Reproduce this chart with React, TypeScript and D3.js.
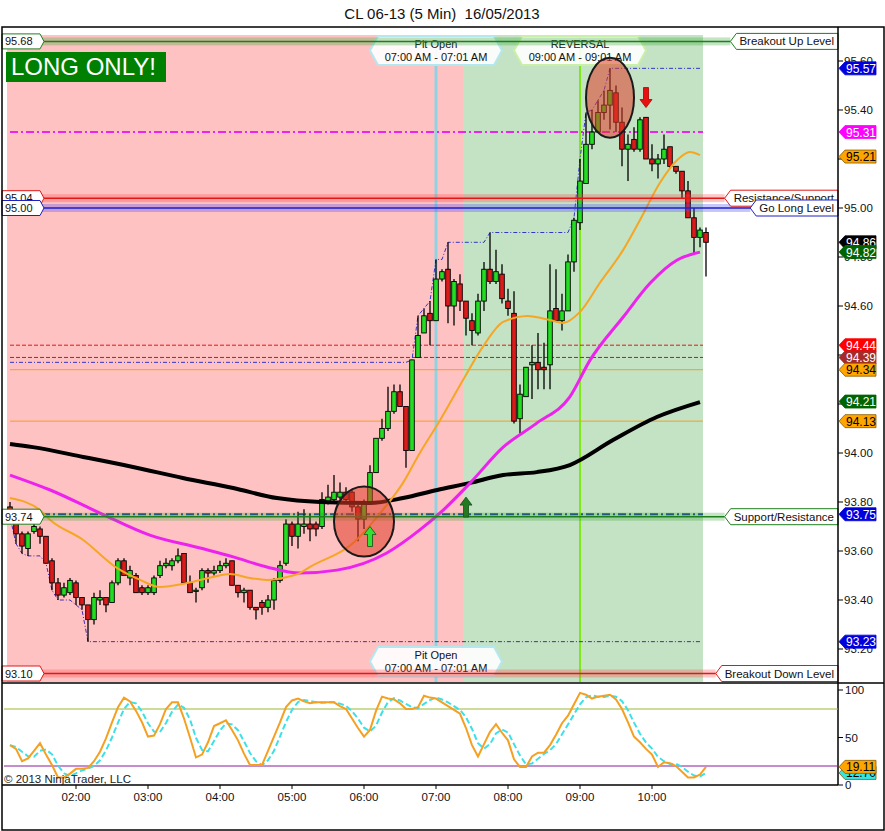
import React from 'react';
import * as d3 from 'd3';

const FONT = '"Liberation Sans", Arial, sans-serif';

const title = 'CL 06-13 (5 Min)\u00a0\u00a016/05/2013';
const sessionStart = '01:05';
const barMinutes = 5;

// open, high, low, close of every 5 min bar, 01:05 .. 10:45
const ohlc: [number, number, number, number][] = [
  [93.78, 93.80, 93.74, 93.75], [93.75, 93.76, 93.63, 93.67], [93.67, 93.68, 93.59, 93.62], [93.61, 93.68, 93.58, 93.67],
  [93.68, 93.72, 93.67, 93.70], [93.69, 93.70, 93.63, 93.66], [93.66, 93.66, 93.55, 93.55], [93.56, 93.57, 93.44, 93.47],
  [93.47, 93.49, 93.40, 93.42], [93.42, 93.47, 93.41, 93.45], [93.43, 93.49, 93.42, 93.48], [93.47, 93.48, 93.38, 93.41],
  [93.41, 93.41, 93.36, 93.38], [93.38, 93.38, 93.23, 93.32], [93.32, 93.43, 93.30, 93.41], [93.40, 93.44, 93.38, 93.41],
  [93.41, 93.41, 93.35, 93.38], [93.39, 93.48, 93.39, 93.47], [93.47, 93.57, 93.46, 93.56], [93.56, 93.57, 93.50, 93.50],
  [93.49, 93.54, 93.46, 93.52], [93.50, 93.51, 93.43, 93.43], [93.45, 93.46, 93.42, 93.43], [93.43, 93.46, 93.42, 93.45],
  [93.43, 93.50, 93.42, 93.49], [93.50, 93.56, 93.49, 93.54], [93.54, 93.57, 93.53, 93.55], [93.54, 93.57, 93.52, 93.56],
  [93.56, 93.61, 93.55, 93.58], [93.59, 93.59, 93.47, 93.47], [93.47, 93.50, 93.43, 93.43], [93.44, 93.45, 93.39, 93.44],
  [93.45, 93.53, 93.44, 93.52], [93.52, 93.53, 93.47, 93.51], [93.51, 93.54, 93.50, 93.52], [93.52, 93.56, 93.51, 93.54],
  [93.54, 93.57, 93.53, 93.55], [93.56, 93.56, 93.46, 93.46], [93.46, 93.46, 93.41, 93.43], [93.43, 93.45, 93.39, 93.44],
  [93.44, 93.44, 93.36, 93.37], [93.37, 93.37, 93.32, 93.36], [93.39, 93.40, 93.34, 93.37], [93.37, 93.42, 93.35, 93.40],
  [93.40, 93.49, 93.36, 93.48], [93.48, 93.56, 93.47, 93.54], [93.55, 93.73, 93.54, 93.71], [93.71, 93.72, 93.62, 93.66],
  [93.66, 93.76, 93.61, 93.71], [93.70, 93.77, 93.67, 93.71], [93.71, 93.75, 93.64, 93.69], [93.71, 93.72, 93.66, 93.69],
  [93.70, 93.84, 93.69, 93.81], [93.80, 93.87, 93.79, 93.82], [93.81, 93.91, 93.80, 93.84], [93.82, 93.88, 93.81, 93.84],
  [93.84, 93.86, 93.80, 93.81], [93.84, 93.85, 93.76, 93.78], [93.78, 93.79, 93.64, 93.73], [93.73, 93.81, 93.69, 93.80],
  [93.80, 93.95, 93.79, 93.92], [93.92, 94.06, 93.92, 94.06], [94.06, 94.14, 94.05, 94.10], [94.10, 94.27, 94.09, 94.17],
  [94.17, 94.28, 94.16, 94.25], [94.25, 94.28, 94.19, 94.19], [94.19, 94.19, 93.94, 94.01], [94.01, 94.38, 94.01, 94.38],
  [94.39, 94.56, 94.39, 94.48], [94.49, 94.59, 94.49, 94.56], [94.57, 94.62, 94.44, 94.54], [94.54, 94.79, 94.54, 94.71],
  [94.71, 94.75, 94.70, 94.74], [94.75, 94.86, 94.53, 94.60], [94.60, 94.71, 94.52, 94.70], [94.69, 94.73, 94.58, 94.62],
  [94.62, 94.62, 94.48, 94.55], [94.54, 94.57, 94.44, 94.50], [94.49, 94.65, 94.48, 94.62], [94.62, 94.78, 94.58, 94.75],
  [94.75, 94.90, 94.69, 94.70], [94.70, 94.83, 94.69, 94.74], [94.73, 94.77, 94.61, 94.63], [94.62, 94.67, 94.56, 94.59],
  [94.57, 94.66, 94.12, 94.13], [94.14, 94.28, 94.08, 94.24], [94.23, 94.35, 94.23, 94.35], [94.36, 94.44, 94.22, 94.37],
  [94.37, 94.49, 94.26, 94.34], [94.35, 94.45, 94.26, 94.34], [94.36, 94.77, 94.26, 94.58], [94.59, 94.75, 94.54, 94.54],
  [94.54, 94.65, 94.50, 94.58], [94.58, 94.81, 94.58, 94.78], [94.78, 94.96, 94.74, 94.95], [94.94, 95.20, 94.91, 95.11],
  [95.10, 95.39, 95.10, 95.26], [95.26, 95.40, 95.24, 95.31], [95.31, 95.44, 95.31, 95.39], [95.39, 95.48, 95.36, 95.42],
  [95.42, 95.57, 95.32, 95.48], [95.47, 95.50, 95.31, 95.35], [95.35, 95.41, 95.17, 95.24], [95.24, 95.30, 95.11, 95.26],
  [95.28, 95.33, 95.23, 95.24], [95.24, 95.37, 95.23, 95.36], [95.37, 95.37, 95.20, 95.20], [95.20, 95.26, 95.15, 95.18],
  [95.18, 95.22, 95.12, 95.20], [95.20, 95.30, 95.18, 95.24], [95.25, 95.25, 95.16, 95.17], [95.17, 95.17, 95.14, 95.15],
  [95.15, 95.15, 95.04, 95.07], [95.07, 95.11, 94.96, 94.96], [94.96, 95.00, 94.81, 94.88], [94.88, 94.92, 94.84, 94.91],
  [94.90, 94.92, 94.72, 94.86],
];

// stochastic %K per bar
const stochK = [
  42, 38, 25, 28, 36, 44, 32, 21, 8, 8,
  12, 17, 17, 18, 25, 35, 49, 66, 82, 92,
  88, 78, 66, 51, 52, 64, 80, 87, 87, 70,
  50, 29, 32, 45, 62, 65, 68, 58, 47, 33,
  21, 21, 21, 36, 51, 66, 82, 89, 91, 88,
  86, 87, 87, 87, 87, 83, 80, 70, 60, 51,
  58, 78, 93, 91, 90, 86, 80, 80, 82, 94,
  92, 91, 87, 83, 79, 75, 60, 42, 30, 43,
  56, 64, 55, 47, 27, 19, 19, 30, 34, 34,
  42, 53, 65, 73, 85, 97, 95, 91, 93, 94,
  95, 90, 80, 66, 51, 45, 38, 32, 19, 24,
  23, 20, 14, 8, 8, 11, 19.11,
];

// moving averages: [bar, price]
const emaFast: [number, number][] = [
  [0, 93.816], [5, 93.767], [6.7, 93.727], [12.2, 93.645], [17.8, 93.531], [21.7, 93.482], [25, 93.453],
  [29.5, 93.469], [33.8, 93.494], [36.7, 93.506], [40, 93.49], [42.8, 93.482], [46.2, 93.494], [48.3, 93.51],
  [50, 93.535], [57.2, 93.633], [61.7, 93.755], [65.5, 93.878], [68.3, 94.0], [71.7, 94.135], [75.5, 94.298],
  [78.8, 94.433], [82.2, 94.535], [86.2, 94.559], [90, 94.543], [92.2, 94.531], [95, 94.576], [98.3, 94.694],
  [102.2, 94.829], [105, 94.951], [108.3, 95.102], [111.2, 95.196], [113.3, 95.229], [115, 95.216],
];
const smaMid: [number, number][] = [
  [0, 93.91], [6.7, 93.849], [15, 93.755], [23.3, 93.665], [31.7, 93.612], [37.2, 93.576], [42.8, 93.535],
  [48.3, 93.51], [54.5, 93.522], [62.8, 93.592], [68.3, 93.686], [72.2, 93.767], [76.7, 93.878], [82.2, 94.024],
  [87.8, 94.122], [93.3, 94.229], [96.7, 94.38], [102.2, 94.555], [106.7, 94.694], [111.2, 94.788], [115, 94.82],
];
const smaSlow: [number, number][] = [
  [0, 94.037], [3.8, 94.024], [12.2, 93.984], [20.5, 93.943], [28.8, 93.898], [37.2, 93.857], [44.5, 93.816],
  [51.7, 93.8], [60, 93.796], [65.5, 93.816], [71.2, 93.849], [76.7, 93.878], [82.2, 93.91], [87.8, 93.922],
  [93.3, 93.951], [100.5, 94.053], [107.8, 94.147], [115, 94.208],
];

const priorHigh = 94.37;

const priceTicks = [93.2, 93.4, 93.6, 93.8, 94.0, 94.2, 94.4, 94.6, 94.8, 95.0, 95.2, 95.4, 95.6];
const stochTicks = [0, 50, 100];
const timeTicks = ['02:00', '03:00', '04:00', '05:00', '06:00', '07:00', '08:00', '09:00', '10:00'];

const levels = [
  { name: 'Breakout Up Level', value: 95.68, tag: '95.68', kind: 'green' },
  { name: 'Resistance/Support', value: 95.04, tag: '95.04', kind: 'red' },
  { name: 'Go Long Level', value: 95.0, tag: '95.00', kind: 'blue' },
  { name: 'Support/Resistance', value: 93.74, tag: '93.74', kind: 'green' },
  { name: 'Breakout Down Level', value: 93.1, tag: '93.10', kind: 'red' },
];
const thinLines = [
  { value: 95.31, kind: 'magenta' },
  { value: 94.44, kind: 'red' },
  { value: 94.39, kind: 'brown' },
  { value: 94.34, kind: 'orange' },
  { value: 94.13, kind: 'orange' },
  { value: 93.75, kind: 'navy' },
];
const axisTags = [
  { label: '95.57', kind: 'blue' }, { label: '95.31', kind: 'magenta' }, { label: '95.21', kind: 'orange' },
  { label: '94.86', kind: 'black' }, { label: '94.82', kind: 'darkgreen' }, { label: '94.44', kind: 'red' },
  { label: '94.39', kind: 'brown' }, { label: '94.34', kind: 'orange' }, { label: '94.21', kind: 'darkgreen' },
  { label: '94.13', kind: 'orange' }, { label: '93.75', kind: 'blue' }, { label: '93.23', kind: 'blue' },
];

const sessions = [
  { from: '01:05', to: '07:20', kind: 'short' },
  { from: '07:25', to: '10:40', kind: 'long' },
];
const timeMarkers = [
  { time: '07:00', text: 'Pit Open', range: '07:00 AM - 07:01 AM', kind: 'cyan', both: true },
  { time: '09:00', text: 'REVERSAL', range: '09:00 AM - 09:01 AM', kind: 'lime', both: false },
];
const circles = [
  { time: '06:00', price: 93.72 },
  { time: '09:25', price: 95.45 },
];
const arrows = [
  { time: '06:05', price: 93.7, dir: 'up', kind: 'lime' },
  { time: '07:25', price: 93.82, dir: 'up', kind: 'darkgreen' },
  { time: '09:55', price: 95.41, dir: 'down', kind: 'red' },
];

const lineColor: Record<string, string> = {
  green: '#1f7f1f', red: '#e01818', blue: '#1f1fc8', magenta: '#ee22ee', brown: '#a02828',
  orange: '#f2a020', navy: '#1f3f9f',
};
const bandColor: Record<string, string> = {
  green: 'rgba(40,160,40,0.28)', red: 'rgba(255,70,70,0.3)', blue: 'rgba(70,70,255,0.3)',
};
const tagColor: Record<string, [string, string]> = {
  blue: ['#0000dd', '#fff'], magenta: ['#ff00ff', '#fff'], orange: ['#ffa500', '#000'], black: ['#000', '#fff'],
  darkgreen: ['#006400', '#fff'], red: ['#ff0000', '#fff'], brown: ['#a52a2a', '#fff'], cyan: ['#33e5e5', '#000'],
};
const arrowColor: Record<string, string> = { lime: '#33e033', darkgreen: '#237a23', red: '#e81010' };

const toMin = (s: string) => {
  const [h, m] = s.split(':').map(Number);
  return h * 60 + m;
};
const barOf = (s: string) => (toMin(s) - toMin(sessionStart)) / barMinutes;

let ctx: CanvasRenderingContext2D | null = null;
const textWidth = (t: string, size: number) => {
  if (!ctx) ctx = document.createElement('canvas').getContext('2d');
  if (!ctx) return t.length * size * 0.55;
  ctx.font = `${size}px ${FONT}`;
  return ctx.measureText(t).width;
};

export default function App() {
  const W = 885;
  const H = 831;
  const PL = 4;
  const PR = 838;
  const PT = 34;
  const PB = 683;
  const SB = 785;

  const x = d3.scaleLinear().domain([0, ohlc.length - 1]).range([10, 706]);
  const y = d3.scaleLinear().domain([93.2, 95.6]).range([649, 61]);
  const ys = d3.scaleLinear().domain([0, 100]).range([SB, 690]);
  const lastX = x(ohlc.length - 1.5);

  const maLine = d3.line<[number, number]>().x((d) => x(d[0])).y((d) => y(d[1])).curve(d3.curveMonotoneX);

  // running session high / low
  const upper: [number, number][] = [];
  const lower: [number, number][] = [];
  let hi = priorHigh;
  let lo = Infinity;
  ohlc.forEach((c, i) => {
    hi = Math.max(hi, c[1]);
    lo = Math.min(lo, c[2]);
    if (i < ohlc.length - 1) {
      upper.push([i, hi]);
      lower.push([i, lo]);
    }
  });
  const stepLine = d3.line<[number, number]>().x((d) => x(d[0])).y((d) => y(d[1]));

  const stochD = stochK.map((_, i) => d3.mean(stochK.slice(Math.max(0, i - 2), i + 1)) as number);
  const kLine = d3.line<number>().x((_, i) => x(i)).y((d) => ys(d));
  const lastD = stochD[stochD.length - 1];

  const tagShape = (cy: number) => `M${PR + 1},${cy} L${PR + 7},${cy - 6.5} H876 V${cy + 6.5} H${PR + 7} Z`;

  const hexBox = (cx: number, y0: number, y1: number) => {
    const w = 66;
    const ym = (y0 + y1) / 2;
    return `M${cx - w},${ym} L${cx - w + 8},${y0} H${cx + w - 8} L${cx + w},${ym} L${cx + w - 8},${y1} H${cx - w + 8} Z`;
  };

  const arrowPath = (cx: number, tip: number, dir: string) => {
    const s = dir === 'up' ? 1 : -1;
    return `M${cx},${tip} L${cx + 6},${tip + 8 * s} H${cx + 2.5} V${tip + 20 * s} H${cx - 2.5} V${tip + 8 * s} H${cx - 6} Z`;
  };

  return (
    <div style={{ position: 'absolute', left: 0, top: 0 }}>
      <svg width={W} height={H} style={{ display: 'block', fontFamily: FONT }}>
        <defs>
          <clipPath id="plot">
            <rect x={PL} y={PT - 2} width={PR - PL} height={PB - PT + 2} />
          </clipPath>
        </defs>
        <rect width={W} height={H} fill="#fff" />
        <text x={442} y={19} textAnchor="middle" fontSize={15} fill="#111">{title}</text>

        {/* session shading */}
        {sessions.map((s) => (
          <rect key={s.from} x={x(barOf(s.from) - 0.5)} y={PT + 1} width={x(barOf(s.to) + 0.5) - x(barOf(s.from) - 0.5)}
            height={PB - PT - 2} fill={s.kind === 'short' ? '#ffc2c2' : '#c4e2c4'} />
        ))}

        {/* vertical time markers */}
        {timeMarkers.map((m) => (
          <line key={m.time} x1={x(barOf(m.time))} x2={x(barOf(m.time))} y1={PT + 1} y2={PB - 1}
            stroke={m.kind === 'cyan' ? '#8fd3e3' : '#7ee81a'} strokeWidth={m.kind === 'cyan' ? 3 : 2} />
        ))}

        {/* thin indicator lines */}
        {thinLines.map((l) => (
          <line key={l.value} x1={x(0)} x2={lastX} y1={y(l.value)} y2={y(l.value)} stroke={lineColor[l.kind]}
            strokeWidth={l.kind === 'magenta' || l.kind === 'navy' ? 2 : 1}
            strokeDasharray={l.kind === 'orange' ? undefined : l.kind === 'magenta' || l.kind === 'navy' ? '8,3,2,3' : '4,2'} />
        ))}

        <g clipPath="url(#plot)">
          <path d={stepLine(upper) || ''} fill="none" stroke="#3434c8" strokeWidth={1} strokeDasharray="4,2,1,2" />
          <path d={stepLine(lower) || ''} fill="none" stroke="#4a2aa8" strokeWidth={1} strokeDasharray="4,2,1,2" />

          {/* candles */}
          {ohlc.map((c, i) => {
            const [o, h, l, cl] = c;
            const up = cl >= o;
            const top = y(Math.max(o, cl));
            const bot = y(Math.min(o, cl));
            return (
              <g key={i}>
                <line x1={x(i)} x2={x(i)} y1={y(h)} y2={y(l)} stroke="#000" strokeWidth={1.3} />
                <rect x={x(i) - 2.3} y={top} width={4.6} height={Math.max(1.2, bot - top)}
                  fill={up ? '#22dd22' : '#dd1a1a'} stroke="#000" strokeWidth={0.9} />
              </g>
            );
          })}

          <path d={maLine(smaSlow) || ''} fill="none" stroke="#000" strokeWidth={4} />
          <path d={maLine(smaMid) || ''} fill="none" stroke="#ee22ee" strokeWidth={3} />
          <path d={maLine(emaFast) || ''} fill="none" stroke="#f5a623" strokeWidth={2} />
        </g>

        {/* time marker boxes */}
        {timeMarkers.map((m) => {
          const cx = x(barOf(m.time));
          const stroke = m.kind === 'cyan' ? '#b4e8f0' : '#c8f0a8';
          const boxes = m.both ? [PT + 2, PB - 36] : [PT + 2];
          return boxes.map((b0) => (
            <g key={m.time + b0}>
              <path d={hexBox(cx, b0, b0 + 29)} fill="rgba(255,255,255,0.9)" stroke={stroke} strokeWidth={2} />
              <text x={cx} y={b0 + 12} textAnchor="middle" fontSize={11} fill="#111">{m.text}</text>
              <text x={cx} y={b0 + 25} textAnchor="middle" fontSize={11} fill="#111">{m.range}</text>
            </g>
          ));
        })}

        {/* levels with bands */}
        {levels.map((l) => {
          const ly = y(l.value);
          const tw = textWidth(l.name, 11.5);
          const bx = PR - tw - 13;
          return (
            <g key={l.name}>
              <rect x={PL} y={ly - 4} width={bx - PL} height={8} fill={bandColor[l.kind]} />
              <line x1={PL} x2={bx} y1={ly} y2={ly} stroke={lineColor[l.kind]} strokeWidth={1.5} />
            </g>
          );
        })}

        {/* highlight circles and arrows */}
        {circles.map((c, i) => (
          <ellipse key={c.time} cx={x(barOf(c.time))} cy={y(c.price)} rx={i === 0 ? 30 : 24} ry={i === 0 ? 35 : 40}
            fill="rgba(222,60,40,0.55)" stroke="#1a1a1a" strokeWidth={2} />
        ))}
        {arrows.map((a) => (
          <path key={a.time} d={arrowPath(x(barOf(a.time)), y(a.price), a.dir)} fill={arrowColor[a.kind]}
            stroke={a.kind === 'red' ? '#a00' : '#155015'} strokeWidth={0.8} />
        ))}

        {/* level labels */}
        {levels.map((l) => {
          const ly = y(l.value);
          const tw = textWidth(l.name, 11.5);
          const bx = PR - tw - 13;
          const stroke = lineColor[l.kind];
          return (
            <g key={'lab' + l.name}>
              <path d={`M${bx},${ly} L${bx + 6},${ly - 8} H${PR} V${ly + 8} H${bx + 6} Z`} fill="#fff" stroke={stroke} strokeWidth={1} />
              <text x={bx + 9} y={ly + 4} fontSize={11.5} fill="#111">{l.name}</text>
              <path d={`M2,${ly - 7.5} H40 L44,${ly} L40,${ly + 7.5} H2 Z`} fill="#fff" stroke={stroke} strokeWidth={1} />
              <text x={5} y={ly + 4} fontSize={11} fill="#111">{l.tag}</text>
            </g>
          );
        })}

        <rect x={6} y={52} width={160} height={30} fill="#008000" />
        <text x={11} y={75} fontSize={24} fill="#fff">LONG ONLY!</text>

        {/* frame */}
        <rect x={2} y={27} width={882} height={803} fill="none" stroke="#000" strokeWidth={1.5} />
        <line x1={PR} x2={PR} y1={27} y2={SB} stroke="#000" strokeWidth={1.5} />
        <line x1={2} x2={884} y1={PB} y2={PB} stroke="#000" strokeWidth={1.5} />
        <line x1={2} x2={PR} y1={SB} y2={SB} stroke="#000" strokeWidth={1.5} />

        {/* price axis */}
        {priceTicks.map((t) => (
          <g key={t}>
            <line x1={PR} x2={PR + 5} y1={y(t)} y2={y(t)} stroke="#000" />
            <text x={PR + 6} y={y(t) + 4} fontSize={11.5} fill="#111">{t.toFixed(2)}</text>
          </g>
        ))}
        {axisTags.map((t) => {
          const cy = y(+t.label);
          const [bg, fg] = tagColor[t.kind];
          return (
            <g key={t.label}>
              <path d={tagShape(cy)} fill={bg} stroke={t.kind === 'orange' ? '#8a5a00' : bg} strokeWidth={0.8} />
              <text x={PR + 8} y={cy + 4.5} fontSize={12} fill={fg}>{t.label}</text>
            </g>
          );
        })}

        {/* stochastic panel */}
        <line x1={PL} x2={PR} y1={ys(80)} y2={ys(80)} stroke="#9ab832" strokeWidth={1} />
        <line x1={PL} x2={PR} y1={ys(20)} y2={ys(20)} stroke="#8a1a9a" strokeWidth={1} />
        <path d={kLine(stochD) || ''} fill="none" stroke="#3ee0e8" strokeWidth={2} strokeDasharray="6,3" />
        <path d={kLine(stochK) || ''} fill="none" stroke="#f5a020" strokeWidth={2} />
        <text x={4} y={783} fontSize={11.5} fill="#222">© 2013 NinjaTrader, LLC</text>
        {stochTicks.map((t) => (
          <g key={t}>
            <line x1={PR} x2={PR + 5} y1={ys(t)} y2={ys(t)} stroke="#000" />
            <text x={PR + 7} y={ys(t) + 4} fontSize={11.5} fill="#111">{t}</text>
          </g>
        ))}
        {[
          { v: lastD, kind: 'cyan' },
          { v: stochK[stochK.length - 1], kind: 'orange' },
        ].map((t) => (
          <g key={t.kind}>
            <path d={tagShape(ys(t.v))} fill={tagColor[t.kind][0]} stroke="#8a5a00" strokeWidth={0.8} />
            <text x={PR + 8} y={ys(t.v) + 4.5} fontSize={12} fill="#000">{t.v.toFixed(2)}</text>
          </g>
        ))}

        {/* time axis */}
        {timeTicks.map((t) => (
          <g key={t}>
            <line x1={x(barOf(t))} x2={x(barOf(t))} y1={SB} y2={SB + 4} stroke="#000" />
            <text x={x(barOf(t))} y={801} textAnchor="middle" fontSize={11.5} fill="#111">{t}</text>
          </g>
        ))}
      </svg>
    </div>
  );
}
